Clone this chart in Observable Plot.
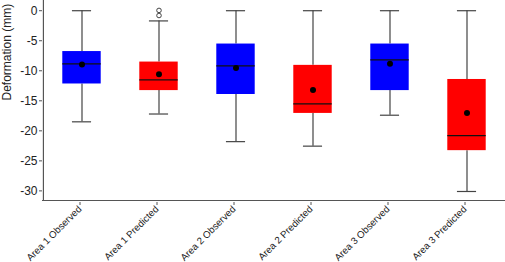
<!DOCTYPE html>
<html><head><meta charset="utf-8">
<script src="https://cdn.jsdelivr.net/npm/d3@7"></script>
<script src="https://cdn.jsdelivr.net/npm/@observablehq/plot@0.6"></script>
<style>body{margin:0;background:#fff}</style>
</head><body><div id="chart"></div>
<script>
const categories = ["Area 1 Observed","Area 1 Predicted","Area 2 Observed","Area 2 Predicted","Area 3 Observed","Area 3 Predicted"];
const groupType = ["Observed","Predicted","Observed","Predicted","Observed","Predicted"];
const whiskerMax = [0, -1.7, 0, 0, 0, 0];
const q3 = [-6.8, -8.55, -5.55, -9.1, -5.55, -11.45];
const median = [-8.85, -11.5, -9.2, -15.5, -8.2, -20.8];
const mean = [-8.95, -10.6, -9.55, -13.2, -8.85, -17.05];
const q1 = [-12.2, -13.3, -13.95, -17.1, -13.3, -23.3];
const whiskerMin = [-18.5, -17.2, -21.8, -22.55, -17.4, -30.1];
const outlierCat = ["Area 1 Predicted","Area 1 Predicted"];
const outlierVal = [0.05, -0.8];
const yTicks = [0, -5, -10, -15, -20, -25, -30];

const rows = categories.map((c,i)=>({cat:c, type:groupType[i], max:whiskerMax[i], q3:q3[i], med:median[i], mean:mean[i], q1:q1[i], min:whiskerMin[i]}));
const outliers = outlierCat.map((c,i)=>({cat:c, v:outlierVal[i]}));
const yMin = -31.6, yMax = 1.7;
const font = "Liberation Sans, Arial, sans-serif";
const W = 505, ML = 42, MR = 0;
const bw = (W - ML - MR) / categories.length;

const chart = Plot.plot({
  width: W, height: 262,
  marginLeft: ML, marginRight: MR, marginTop: 0, marginBottom: 62,
  style: {fontFamily: font, fontSize: "11px", color: "#222", background: "#fff"},
  x: {type: "band", domain: categories, padding: 0, label: null},
  y: {domain: [yMin, yMax], label: null},
  color: {domain: ["Observed","Predicted"], range: ["#0000ff","#ff0000"]},
  marks: [
    Plot.ruleX(rows, {x: "cat", y1: "q3", y2: "max", stroke: "#444", strokeWidth: 1.2}),
    Plot.ruleX(rows, {x: "cat", y1: "min", y2: "q1", stroke: "#444", strokeWidth: 1.2}),
    Plot.tickY(rows, {x: "cat", y: "max", stroke: "#444", strokeWidth: 1.2, insetLeft: bw*0.375, insetRight: bw*0.375}),
    Plot.tickY(rows, {x: "cat", y: "min", stroke: "#444", strokeWidth: 1.2, insetLeft: bw*0.375, insetRight: bw*0.375}),
    Plot.barY(rows, {x: "cat", y1: "q1", y2: "q3", fill: "type", insetLeft: bw*0.25, insetRight: bw*0.25}),
    Plot.tickY(rows, {x: "cat", y: "med", stroke: "#111", strokeWidth: 1.2, insetLeft: bw*0.25, insetRight: bw*0.25}),
    Plot.dot(rows, {x: "cat", y: "mean", r: 3, fill: "#000"}),
    Plot.dot(outliers, {x: "cat", y: "v", r: 2.3, stroke: "#444", fill: "none", strokeWidth: 1}),
    Plot.ruleY([yMin], {stroke: "#555", strokeWidth: 1.2}),
    Plot.ruleX([categories[0]], {dx: -bw/2, stroke: "#555", strokeWidth: 1.2}),
    Plot.axisY({ticks: yTicks, tickFormat: d => String(d), tickSize: 3, tickPadding: 2, fontSize: 12, stroke: "#555", label: null}),
    Plot.axisX({tickRotate: -45, tickSize: 3, tickPadding: 2, fontSize: 9.7, dx: -2, dy: 2, stroke: "#555", label: null}),
    Plot.text(["Deformation (mm)"], {frameAnchor: "left", dx: -35, rotate: -90, fontSize: 12, fill: "#222"})
  ]
});
document.getElementById("chart").appendChild(chart);
</script></body></html>
